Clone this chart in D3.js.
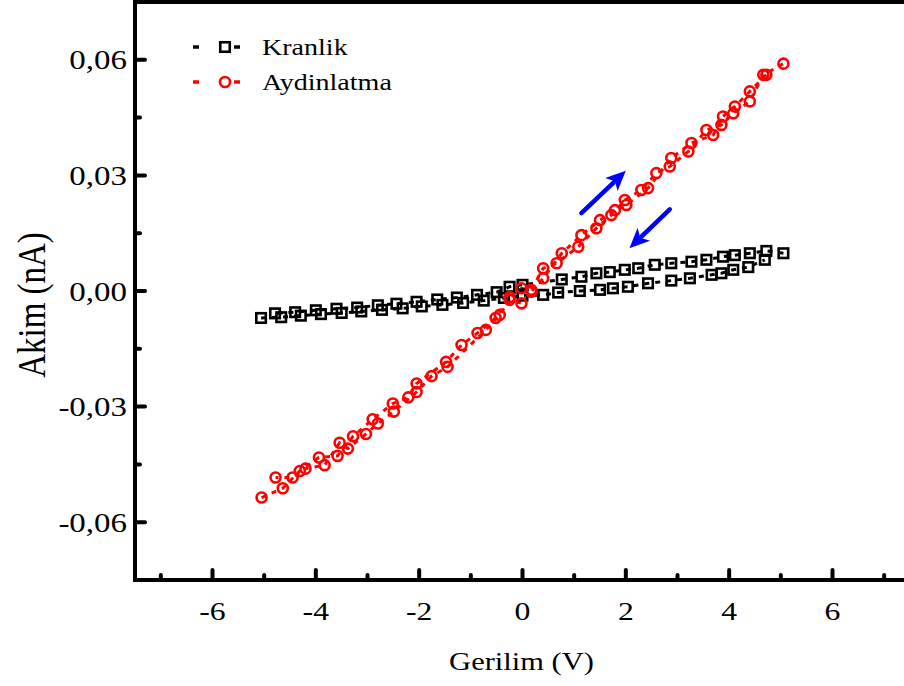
<!DOCTYPE html>
<html>
<head>
<meta charset="utf-8">
<script src="https://cdn.jsdelivr.net/npm/d3@7"></script>
<style>
  html, body { margin: 0; padding: 0; background: #fff; }
  svg { display: block; }
  text { font-family: "Liberation Serif", "Times New Roman", serif; fill: #000; }
</style>
</head>
<body>
<svg id="chart" width="904" height="686"></svg>
<script>
// ---- Data ----
const seriesNames = ["Kranlik", "Aydinlatma"];

// Kranlik (dark) – sweep -5 -> 5
const darkV1 = [-5.06,-4.67,-4.29,-3.90,-3.50,-3.12,-2.72,-2.32,-1.95,-1.55,-1.15,-0.75,-0.36,0.00,0.40,0.69,1.11,1.50,1.75,2.04,2.43,2.88,3.24,3.66,3.85,4.08,4.37,4.69];
const darkI1 = [-0.0070,-0.0068,-0.0064,-0.0060,-0.0057,-0.0053,-0.0049,-0.0045,-0.0040,-0.0036,-0.0031,-0.0025,-0.0018,-0.0012,-0.0010,-0.0004,0.0000,0.0003,0.0007,0.0011,0.0020,0.0027,0.0033,0.0042,0.0046,0.0055,0.0062,0.0081];
// Kranlik (dark) – sweep 5 -> -5
const darkV2 = [5.05,4.72,4.40,4.11,3.88,3.56,3.27,2.88,2.56,2.24,1.98,1.69,1.43,1.14,0.76,0.00,-0.25,-0.50,-0.88,-1.27,-1.65,-2.05,-2.44,-2.80,-3.20,-3.60,-4.00,-4.40,-4.79];
const darkI2 = [0.0098,0.0104,0.0098,0.0093,0.0089,0.0081,0.0076,0.0072,0.0068,0.0059,0.0055,0.0049,0.0046,0.0037,0.0030,0.0016,0.0011,-0.0003,-0.0010,-0.0017,-0.0022,-0.0028,-0.0033,-0.0037,-0.0043,-0.0046,-0.0050,-0.0055,-0.0058];

// Aydinlatma (illuminated) – sweep -5 -> 5
const lightV1 = [-5.05,-4.64,-4.31,-3.94,-3.58,-3.28,-2.90,-2.51,-2.21,-2.05,-1.48,-1.18,-0.87,-0.52,-0.25,-0.02,0.17,0.40,0.66,1.08,1.43,1.72,1.98,2.30,2.59,2.85,3.21,3.56,3.85,4.08,4.40,4.66,5.05];
const lightI1 = [-0.0536,-0.0512,-0.0467,-0.0432,-0.0428,-0.0377,-0.0333,-0.0292,-0.0276,-0.0240,-0.0184,-0.0140,-0.0109,-0.0070,-0.0016,0.0007,0.0003,0.0059,0.0072,0.0115,0.0163,0.0197,0.0236,0.0262,0.0306,0.0323,0.0362,0.0418,0.0431,0.0461,0.0492,0.0561,0.0590];
// Aydinlatma (illuminated) – sweep 5 -> -5
const lightV2 = [4.72,4.40,4.11,3.88,3.69,3.27,2.88,2.43,2.01,1.79,1.50,1.14,0.76,0.40,0.17,-0.02,-0.25,-0.44,-0.71,-1.45,-1.76,-2.05,-2.49,-2.80,-3.03,-3.38,-3.54,-3.83,-4.20,-4.45,-4.78];
const lightI2 = [0.0561,0.0518,0.0479,0.0453,0.0405,0.0384,0.0345,0.0267,0.0223,0.0210,0.0184,0.0145,0.0098,0.0033,-0.0002,-0.0032,-0.0023,-0.0062,-0.0101,-0.0197,-0.0221,-0.0262,-0.0313,-0.0344,-0.0371,-0.0409,-0.0394,-0.0452,-0.0461,-0.0484,-0.0484];

// Sweep-direction arrows [tailV, tailI, tipV, tipI]
const arrowUp   = [1.14, 0.0202, 2.00, 0.0312];
const arrowDown = [2.85, 0.0212, 2.07, 0.0111];

// Axes
const xDomain = [-7.5, 7.5];
const yDomain = [-0.075, 0.075];
const xTicks = [-6, -4, -2, 0, 2, 4, 6];
const xTickLabels = ["-6", "-4", "-2", "0", "2", "4", "6"];
const xMinorTicks = [-7, -5, -3, -1, 1, 3, 5, 7];
const yTicks = [-0.06, -0.03, 0, 0.03, 0.06];
const yTickLabels = ["-0,06", "-0,03", "0,00", "0,03", "0,06"];
const yMinorTicks = [-0.045, -0.015, 0.015, 0.045];
const xTitle = "Gerilim (V)";
const yTitle = "Akim (nA)";

// ---- Layout ----
const svg = d3.select("#chart");
const L = 135, R = 910, T = 2, B = 580;
const SX = 1.22; // horizontal stretch of the original artwork's text

const x = d3.scaleLinear().domain(xDomain).range([L, R]);
const y = d3.scaleLinear().domain(yDomain).range([B, T]);

const black = "#000", red = "#ff0000", blue = "#0000ff";

function zipPts(V, I) { return V.map((v, i) => [v, I[i]]); }
const darkPts = zipPts(darkV1, darkI1).concat(zipPts(darkV2, darkI2));
const lightPts = zipPts(lightV1, lightI1).concat(zipPts(lightV2, lightI2));

const line = d3.line().x(d => x(d[0])).y(d => y(d[1]));

const plot = svg.append("g");
[[zipPts(darkV1, darkI1), black], [zipPts(darkV2, darkI2), black],
 [zipPts(lightV1, lightI1), red], [zipPts(lightV2, lightI2), red]].forEach(([pts, c]) => {
  plot.append("path").attr("d", line(pts))
    .attr("fill", "none").attr("stroke", c).attr("stroke-width", 3)
    .attr("stroke-dasharray", "5,6");
});

const sq = 9.5;
plot.selectAll("rect.dark").data(darkPts).join("rect")
  .attr("class", "dark")
  .attr("x", d => x(d[0]) - sq / 2).attr("y", d => y(d[1]) - sq / 2)
  .attr("width", sq).attr("height", sq)
  .attr("fill", "none").attr("stroke", black).attr("stroke-width", 2.6);

plot.selectAll("circle.light").data(lightPts).join("circle")
  .attr("class", "light")
  .attr("cx", d => x(d[0])).attr("cy", d => y(d[1])).attr("r", 5)
  .attr("fill", "none").attr("stroke", red).attr("stroke-width", 2.6);

// Arrows
function drawArrow(a) {
  const x0 = x(a[0]), y0 = y(a[1]), x1 = x(a[2]), y1 = y(a[3]);
  const dx = x1 - x0, dy = y1 - y0, len = Math.hypot(dx, dy);
  const ux = dx / len, uy = dy / len, px = -uy, py = ux;
  const hl = 20, hw = 9;
  const bx = x1 - ux * hl, by = y1 - uy * hl;
  svg.append("line").attr("x1", x0).attr("y1", y0).attr("x2", bx + ux * 3).attr("y2", by + uy * 3)
    .attr("stroke", blue).attr("stroke-width", 4.5).attr("stroke-linecap", "round");
  svg.append("path")
    .attr("d", `M${x1},${y1} L${bx + px * hw},${by + py * hw} L${bx + ux * 5},${by + uy * 5} L${bx - px * hw},${by - py * hw} Z`)
    .attr("fill", blue);
}
drawArrow(arrowUp);
drawArrow(arrowDown);

// Frame (left, bottom, top)
const frame = svg.append("g").attr("stroke", black).attr("stroke-width", 4).attr("fill", "none");
frame.append("line").attr("x1", L).attr("y1", T).attr("x2", R).attr("y2", T);
frame.append("line").attr("x1", L).attr("y1", T - 2).attr("x2", L).attr("y2", B + 2);
frame.append("line").attr("x1", L - 2).attr("y1", B).attr("x2", R).attr("y2", B);

// X axis via d3 (ticks drawn inward below)
const xAxis = d3.axisBottom(x).tickValues(xTicks).tickSize(0).tickFormat("");
svg.append("g").attr("transform", `translate(0,${B})`).call(xAxis).call(g => g.select(".domain").remove());

const ticks = svg.append("g").attr("stroke", black).attr("stroke-width", 4).attr("stroke-linecap", "round");
xTicks.forEach(v => ticks.append("line").attr("x1", x(v)).attr("x2", x(v)).attr("y1", B).attr("y2", B - 10));
xMinorTicks.forEach(v => ticks.append("line").attr("x1", x(v)).attr("x2", x(v)).attr("y1", B).attr("y2", B - 5));
yTicks.forEach(v => ticks.append("line").attr("x1", L).attr("x2", L + 10).attr("y1", y(v)).attr("y2", y(v)));
yMinorTicks.forEach(v => ticks.append("line").attr("x1", L).attr("x2", L + 5).attr("y1", y(v)).attr("y2", y(v)));

function stretchedText(parent, tx, ty, str, size, anchor, rot) {
  const g = parent.append("g").attr("transform", `translate(${tx},${ty}) scale(${SX},1)` + (rot ? ` rotate(${rot})` : ""));
  return g.append("text").attr("text-anchor", anchor).attr("font-size", size).text(str);
}

// Tick labels
xTicks.forEach((v, i) => stretchedText(svg, x(v), 620, xTickLabels[i], 26, "middle"));
yTicks.forEach((v, i) => stretchedText(svg, 127, y(v) + 9.5, yTickLabels[i], 27, "end"));

// Axis titles
stretchedText(svg, (L + 910) / 2 - 1, 670, xTitle, 25, "middle");
stretchedText(svg, 45, 305, yTitle, 33, "middle", -90);

// Legend
const leg = svg.append("g");
[[47, black, "sq"], [82, red, "ci"]].forEach(([ly, c, m], i) => {
  leg.append("line").attr("x1", 193).attr("x2", 199).attr("y1", ly).attr("y2", ly)
    .attr("stroke", c).attr("stroke-width", 3.5);
  if (m === "sq") {
    leg.append("rect").attr("x", 225 - sq / 2).attr("y", ly - sq / 2).attr("width", sq).attr("height", sq)
      .attr("fill", "none").attr("stroke", c).attr("stroke-width", 2.6);
  } else {
    leg.append("circle").attr("cx", 225).attr("cy", ly).attr("r", 5)
      .attr("fill", "none").attr("stroke", c).attr("stroke-width", 2.6);
  }
  leg.append("line").attr("x1", 234).attr("x2", 240).attr("y1", ly).attr("y2", ly)
    .attr("stroke", c).attr("stroke-width", 3.5);
  stretchedText(leg, 262, ly + 8, seriesNames[i], 23, "start");
});
</script>
</body>
</html>
